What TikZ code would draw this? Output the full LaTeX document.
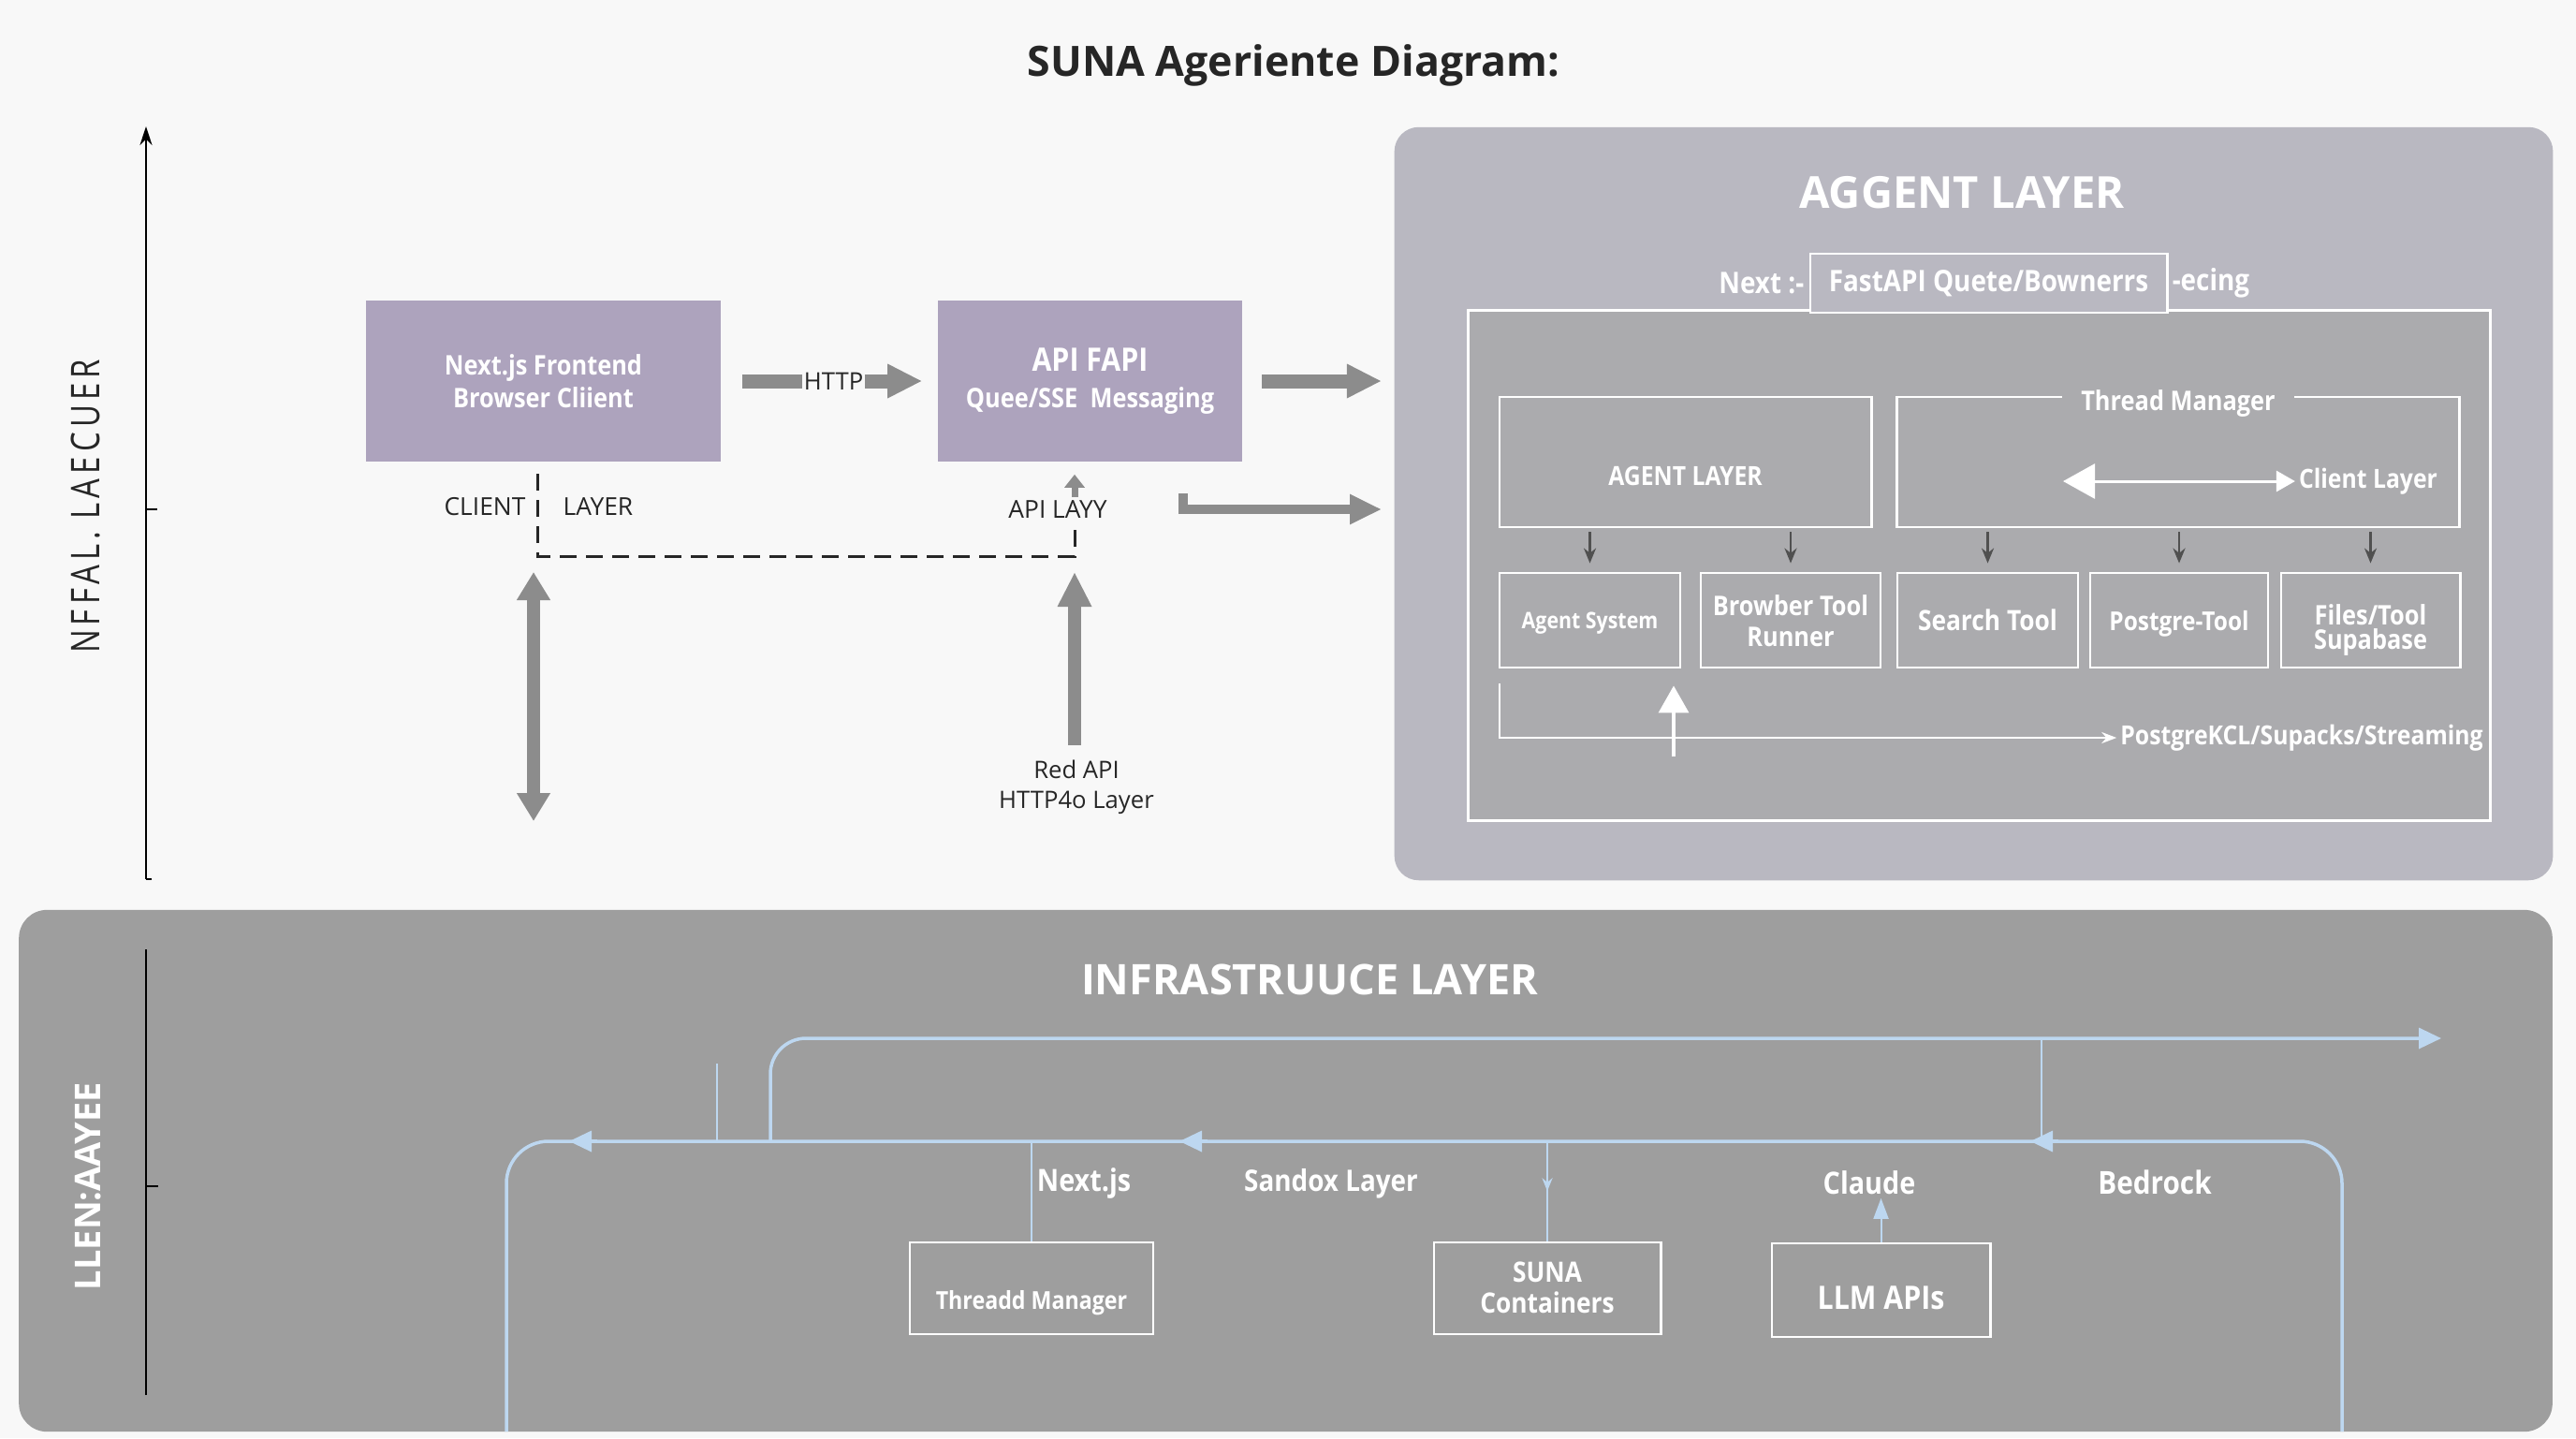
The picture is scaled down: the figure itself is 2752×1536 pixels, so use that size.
\documentclass[tikz,border=0pt]{standalone}
\usepackage{fontspec}
\setmainfont{Open Sans}
\newfontfamily\condfont[FakeStretch=0.88]{Open Sans}
\newfontfamily\axisfont[FakeStretch=0.78,LetterSpace=12]{Open Sans}
\usetikzlibrary{arrows.meta,positioning,decorations.markings}

\definecolor{PageBg}{HTML}{F8F8F8}
\definecolor{BoxPurple}{HTML}{ADA3BD}
\definecolor{AgentBg}{HTML}{B9B8C1}
\definecolor{InnerBg}{HTML}{ABABAE}
\definecolor{InfraBg}{HTML}{9E9E9E}
\definecolor{WireBlue}{HTML}{BDD7F0}
\definecolor{ArrowGray}{HTML}{8C8C8C}
\definecolor{TickGray}{HTML}{505050}
\definecolor{InkDark}{HTML}{262626}

% lowers box text without changing the box size
\newcommand\lowertext[2]{\raisebox{-#1}[\height][\depth]{\begin{tabular}{@{}c@{}}#2\end{tabular}}}

\tikzset{
	boxsize/.style 2 args={minimum width=#1*0.1mm, minimum height=#2*0.1mm},
	purplebox/.style={fill=BoxPurple, inner sep=0pt, align=center, text=white,
		font=\condfont\bfseries\fontsize{8.2}{10}\selectfont},
	agentpanel/.style={fill=AgentBg, rounded corners=2.6mm, inner sep=0pt},
	infrapanel/.style={fill=InfraBg, rounded corners=3mm, inner sep=0pt},
	outlinebox/.style={draw=white, line width=0.28mm, inner sep=0pt, align=center, text=white,
		font=\condfont\bfseries\fontsize{8.2}{9.5}\selectfont},
	whitelabel/.style={text=white, inner sep=1pt, align=center,
		font=\condfont\bfseries\fontsize{8.2}{10}\selectfont},
	darklabel/.style={text=InkDark, inner sep=1pt, align=center,
		font=\fontsize{7.5}{9}\selectfont},
	layertitle/.style={text=white, font=\bfseries\fontsize{13.4}{16}\selectfont},
	fatarrow/.style={draw=ArrowGray, line width=1.5mm, -{Triangle[length=3.7mm,width=3.4mm]}},
	fatboth/.style={draw=ArrowGray, line width=1.4mm,
		{Triangle[length=3mm,width=3.4mm]}-{Triangle[length=3mm,width=3.4mm]}},
	slimarrow/.style={draw=ArrowGray, line width=1mm, -{Triangle[length=3.4mm,width=3mm]}},
	tinyarrow/.style={draw=ArrowGray, line width=0.7mm, -{Triangle[length=1.4mm,width=2.1mm]}},
	dashlink/.style={draw=InkDark, line width=0.3mm, dash pattern=on 1.8mm off 1mm},
	downtick/.style={draw=TickGray, line width=0.25mm, -{Stealth[length=1.6mm,width=1.3mm]}},
	whitewire/.style={draw=white, line width=0.25mm},
	bluewire/.style={draw=WireBlue, line width=0.35mm},
	thinwire/.style={draw=WireBlue, line width=0.2mm},
	bluehead/.style={-{Triangle[length=2.4mm,width=2.2mm]}},
	midhead/.style={postaction={decorate}, decoration={markings,
		mark=at position 0.5 with {\arrow{Stealth[length=1.4mm,width=1.1mm]}}}}
}

\begin{document}
\begin{tikzpicture}[x=0.01cm, y=-0.01cm]
	\useasboundingbox (0,0) rectangle (2752,1536);
	\fill [PageBg] (0,0) rectangle (2752,1536);

	\node [text=InkDark, font=\bfseries\fontsize{12.7}{16}\selectfont] (DiagramTitle) at (1382,70) {SUNA Ageriente Diagram:};

	% upper left axis
		\coordinate (TopAxisMin) at (156,939);
		\coordinate (TopAxisMax) at (156,135);
		\coordinate (TopAxisTick) at (156,544);
		\draw [line width=0.25mm, -{Stealth[length=2mm,width=1.3mm]}] (TopAxisMin) -- (TopAxisMax);% Draw axis
		\draw [line width=0.25mm] (TopAxisTick) -- ++(12,0);
		\draw [line width=0.25mm] (TopAxisMin) -- ++(6,0);
	\node [rotate=90, text=InkDark, font=\axisfont\fontsize{12}{14}\selectfont] (TopAxisLabel) at (92,541) {NFFAL. LAECUER};

	% client and api boxes
	\node [purplebox, boxsize={379}{172}] (FrontendBox) at (580.5,407) {Next.js Frontend\\Browser Cliient};
	\node [purplebox, boxsize={325}{172}] (ApiBox) at (1164.5,407) {{\fontsize{9.8}{11}\selectfont API FAPI}\\[1pt]Quee/SSE\ \ Messaging};

	\node [darklabel] (ClientLabel) at (518,541) {CLIENT};
	\node [darklabel] (LayerLabel) at (639,541) {LAYER};
	\node [darklabel] (ApiLayerLabel) at (1130,544) {API LAYY};
	\node [darklabel, font=\fontsize{7.3}{9.2}\selectfont] (RedApiLabel) at (1150,841) {Red API\\HTTP4o Layer};

	% agent layer panel
	\node [agentpanel, boxsize={1237}{804}] (AgentPanel) at (2108.5,538) {};

	\draw [fatarrow, shorten <=2.2mm, shorten >=1.6mm] (FrontendBox.east) -- (ApiBox.west)
		node [pos=0.52, fill=PageBg, inner sep=0.6pt, text=InkDark, font=\fontsize{7.3}{9}\selectfont] (HttpLabel) {HTTP};
	\draw [fatarrow, shorten <=2mm, shorten >=1.3mm] (ApiBox.east) -- (ApiBox.east -| AgentPanel.west);
		\coordinate (LinkStart) at (1264,527);
		\coordinate (LinkEnd) at (1476,544);
	\draw [slimarrow] (LinkStart) |- (LinkEnd);

	% dashed route between the layers
		\coordinate (DashStart) at (574,506);
		\coordinate (DashCornerL) at (574,594);
		\coordinate (DashCornerR) at (1148,594);
		\coordinate (DashEnd) at (1148,556);
		\coordinate (ApiUpStart) at (1148,531);
	\draw [dashlink] (DashStart) -- (DashCornerL) -- (DashCornerR) -- (DashEnd);
	\draw [tinyarrow, shorten >=1.3mm] (ApiUpStart) -- (ApiUpStart |- ApiBox.south);

		\coordinate (ClientLinkTop) at (570,611);
		\coordinate (ClientLinkBot) at (570,877);
	\draw [fatboth] (ClientLinkTop) -- (ClientLinkBot);
	\draw [fatarrow, line width=1.4mm, shorten <=1.2mm, shorten >=1.7mm] (RedApiLabel.north -| DashCornerR) -- (DashCornerR);

	\node [layertitle] (AgentTitle) at (2096,206) {AGGENT LAYER};
	\node [outlinebox, boxsize={1091}{544}, fill=InnerBg] (InnerBox) at (2114.5,604) {};
	\node [outlinebox, boxsize={381}{63}, fill=AgentBg, font=\condfont\bfseries\fontsize{9}{10}\selectfont] (FastApiBox) at (2124.5,302.5) {FastAPI Quete/Bownerrs};
	\node [whitelabel, left=0.1mm of FastApiBox, font=\condfont\bfseries\fontsize{9}{10}\selectfont] (NextPrefix) {Next :-};
	\node [whitelabel, right=0pt of FastApiBox, font=\condfont\bfseries\fontsize{9}{10}\selectfont] (EcingSuffix) {-ecing};

	\node [outlinebox, boxsize={397}{139}, font=\condfont\bfseries\fontsize{8}{9}\selectfont] (AgentLayerBox) at (1800.5,493.5) {\lowertext{1.9mm}{AGENT LAYER}};
	\node [outlinebox, boxsize={600}{139}] (ThreadBox) at (2327,493.5) {};
	\node [whitelabel, fill=InnerBg, inner xsep=2mm] (ThreadLabel) at ([yshift=-0.8mm]ThreadBox.north) {Thread Manager};
	\node [whitelabel, font=\condfont\bfseries\fontsize{8}{10}\selectfont] (ClientLayerLabel) at (2530,514) {Client Layer};
		\coordinate (ClientSwapL) at (2204,514);
	\draw [white, line width=0.3mm, {Triangle[length=3.4mm,width=3.7mm]}-{Triangle[length=2mm,width=2.2mm]}] (ClientSwapL) -- (ClientLayerLabel.west);

	% tool boxes
	\node [outlinebox, boxsize={193}{101}, font=\condfont\bfseries\fontsize{6.9}{8}\selectfont] (AgentSysBox) at (1698.5,662.5) {\lowertext{0.3mm}{Agent System}};
	\node [outlinebox, boxsize={192}{101}] (BrowserBox) at (1913,662.5) {\lowertext{0.5mm}{Browber Tool\\Runner}};
	\node [outlinebox, boxsize={193}{101}, font=\condfont\bfseries\fontsize{8.5}{9.5}\selectfont] (SearchBox) at (2123.5,662.5) {Search Tool};
	\node [outlinebox, boxsize={190}{101}, font=\condfont\bfseries\fontsize{7.9}{9}\selectfont] (PostgreBox) at (2328,662.5) {\lowertext{0.5mm}{Postgre-Tool}};
	\node [outlinebox, boxsize={191}{101}] (FilesBox) at (2532.5,662.5) {\lowertext{1.1mm}{Files/Tool\\[-2pt]Supabase}};

	\foreach \child/\parent in {AgentSysBox/AgentLayerBox, BrowserBox/AgentLayerBox, SearchBox/ThreadBox, PostgreBox/ThreadBox, FilesBox/ThreadBox}
		\draw [downtick, shorten <=0.4mm, shorten >=0.9mm] (\child.north |- \parent.south) -- (\child.north);

	\node [whitelabel, font=\condfont\bfseries\fontsize{8}{10}\selectfont] (StreamLabel) at (2459,788) {PostgreKCL/Supacks/Streaming};
		\coordinate (StreamStart) at (1602,730);
	\draw [whitewire, -{Stealth[length=1.6mm,width=1.2mm]}] (StreamStart) |- (StreamLabel.west);
		\coordinate (FeedbackFoot) at (1788,808);
	\draw [white, line width=0.35mm, shorten >=1.8mm, -{Triangle[length=2.9mm,width=3.2mm]}] (FeedbackFoot) -- (FeedbackFoot |- AgentSysBox.south);

	% infrastructure panel
	\node [infrapanel, boxsize={2705}{557}] (InfraPanel) at (1373.5,1250.5) {};
	\node [layertitle, font=\bfseries\fontsize{12.8}{15}\selectfont] (InfraTitle) at (1399,1046) {INFRASTRUUCE LAYER};

		\coordinate (LowAxisMin) at (156,1490);
		\coordinate (LowAxisMax) at (156,1014);
		\coordinate (LowAxisTick) at (156,1267);
		\draw [line width=0.25mm] (LowAxisMin) -- (LowAxisMax);% Draw axis
		\draw [line width=0.25mm] (LowAxisTick) -- ++(13,0);
	\node [rotate=90, text=white, font=\bfseries\fontsize{10.8}{13}\selectfont] (LowAxisLabel) at (94,1267) {LLEN:AAYEE};

	% blue bus
		\coordinate (BusRightFoot) at (2502,1529);
		\coordinate (BusRightTop) at (2502,1219);
		\coordinate (BusLeftTop) at (541,1219);
		\coordinate (BusLeftFoot) at (541,1529);
	\draw [bluewire, rounded corners=4.5mm] (BusRightFoot) -- (BusRightTop) -- (BusLeftTop) -- (BusLeftFoot);
	\foreach \tip in {2169,1260,608}
		\draw [bluewire, bluehead] (\tip+30,1219) -- (\tip,1219);

		\coordinate (RouteFoot) at (823,1219);
		\coordinate (RouteCorner) at (823,1109);
		\coordinate (RouteEnd) at (2608,1109);
	\draw [bluewire, bluehead, rounded corners=3.8mm] (RouteFoot) -- (RouteCorner) -- (RouteEnd);
		\coordinate (DropTop) at (2181,1109);
		\coordinate (StubTop) at (766,1136);
	\draw [thinwire] (DropTop) -- (DropTop |- BusLeftTop);
	\draw [thinwire] (StubTop) -- (StubTop |- BusLeftTop);

	\node [outlinebox, boxsize={260}{98}, font=\condfont\bfseries\fontsize{7.5}{9}\selectfont] (ThreaddBox) at (1102,1376) {\lowertext{1.6mm}{Threadd Manager}};
	\node [outlinebox, boxsize={242}{98}, font=\condfont\bfseries\fontsize{8.5}{9.5}\selectfont] (SunaBox) at (1653,1376) {\lowertext{0.3mm}{SUNA\\Containers}};
	\node [outlinebox, boxsize={233}{100}, font=\condfont\bfseries\fontsize{9.8}{11}\selectfont] (LlmBox) at (2009.5,1378) {\lowertext{1.3mm}{LLM APIs}};

	\node [whitelabel, font=\condfont\bfseries\fontsize{9.3}{11}\selectfont] (NextLabel) at (1158,1264) {Next.js};
	\node [whitelabel, font=\condfont\bfseries\fontsize{9}{11}\selectfont] (SandoxLabel) at (1422,1264) {Sandox Layer};
	\node [whitelabel, font=\condfont\bfseries\fontsize{9.3}{11}\selectfont] (ClaudeLabel) at (1997,1263) {Claude};
	\node [whitelabel, font=\condfont\bfseries\fontsize{9.6}{11}\selectfont] (BedrockLabel) at (2302,1263) {Bedrock};

	\draw [thinwire] (ThreaddBox.north |- BusLeftTop) -- (ThreaddBox.north);
	\draw [thinwire, midhead] (SunaBox.north |- BusLeftTop) -- (SunaBox.north);
	\draw [thinwire, -{Triangle[length=2.2mm,width=1.6mm]}] (LlmBox.north) -- (LlmBox.north |- ClaudeLabel.south);
\end{tikzpicture}
\end{document}
